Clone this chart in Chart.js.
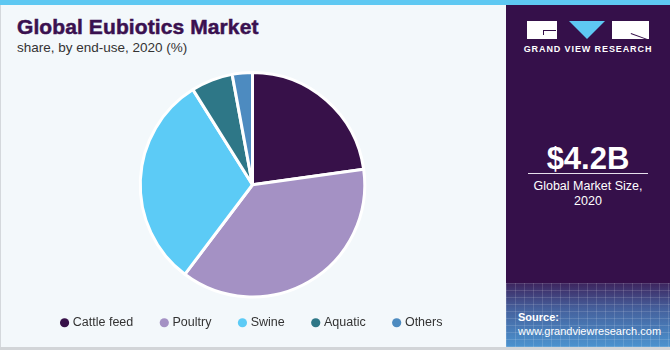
<!DOCTYPE html>
<html>
<head>
<meta charset="utf-8">
<script src="https://cdn.jsdelivr.net/npm/chart.js@4/dist/chart.umd.min.js"></script>
<style>
  html, body { margin: 0; padding: 0; }
  body { width: 670px; height: 350px; position: relative; overflow: hidden; background: #f3f8fb; font-family: "Liberation Sans", Arial, sans-serif; }
  .topbar { position: absolute; left: 0; top: 0; width: 670px; height: 5px; background: #5ec8f2; }
  .left { position: absolute; left: 0; top: 5px; width: 504px; height: 342px; background: #f3f8fb; border-left: 1px solid #d4d8dc; }
  .bottomline { position: absolute; left: 0; top: 347px; width: 670px; height: 3px; background: #d2d5d8; }
  h1 { position: absolute; left: 17px; top: 15px; margin: 0; font-size: 21px; font-weight: bold; color: #3a1150; letter-spacing: 0.1px; -webkit-text-stroke: 0.5px #3a1150; }
  .sub { position: absolute; left: 17px; top: 40px; font-size: 13.5px; color: #333; }
  #wrap { position: absolute; left: 0; top: 60px; width: 505px; height: 290px; }
  .side { position: absolute; left: 506px; top: 5px; width: 164px; height: 342px; background: #35104a; color: #fff; overflow: hidden; }
  .grid { position: absolute; left: 0; top: 278px; width: 164px; height: 64px;
    background:
      repeating-linear-gradient(90deg, rgba(255,255,255,0.13) 0 1px, transparent 1px 9px),
      repeating-linear-gradient(0deg, rgba(255,255,255,0.13) 0 1px, transparent 1px 7px),
      linear-gradient(180deg, #3d245e 0%, #45609c 40%, #4b93cf 100%); }
  .lg { position: absolute; }
  .lg.box { background: #fff; top: 16px; height: 18px; }
  .lg.tri { top: 16px; left: 63px; width: 0; height: 0; border-left: 18px solid transparent; border-right: 18px solid transparent; border-top: 18px solid #5ec8f2; }
  .lg.cut { background: #35104a; height: 1px; }
  .brand { position: absolute; left: 0; width: 164px; top: 39px; text-align: center; font-size: 9px; font-weight: bold; letter-spacing: 0.9px; }
  .big { position: absolute; left: 0; width: 164px; top: 136px; text-align: center; font-size: 31px; font-weight: bold; }
  .rule { position: absolute; left: 22px; width: 120px; top: 168px; height: 1px; background: #e6e0ec; }
  .size { position: absolute; left: 0; width: 164px; top: 174px; text-align: center; font-size: 12.5px; line-height: 15px; }
  .src { position: absolute; left: 12px; top: 305px; font-size: 11px; line-height: 14px; }
</style>
</head>
<body>
<div class="topbar"></div>
<div class="left"></div>
<h1>Global Eubiotics Market</h1>
<div class="sub">share, by end-use, 2020 (%)</div>
<div id="wrap"><canvas id="pie"></canvas></div>
<div class="side">
  <div class="lg box" style="left:21px;width:30px"></div>
  <div class="lg cut" style="left:37px;top:25px;width:13px"></div>
  <div class="lg cut" style="left:37px;top:25px;width:1px;height:5px"></div>
  <div class="lg tri"></div>
  <div class="lg box" style="left:106px;width:37px"></div>
  <div class="lg cut" style="left:125px;top:28px;width:18px;transform:rotate(20deg);transform-origin:0 0"></div>
  <div class="brand">GRAND VIEW RESEARCH</div>
  <div class="big">$4.2B</div>
  <div class="rule"></div>
  <div class="size">Global Market Size,<br>2020</div>
  <div class="grid"></div>
  <div class="src"><b>Source:</b><br>www.grandviewresearch.com</div>
</div>
<div class="bottomline"></div>
<script>
const categories = ['Cattle feed', 'Poultry', 'Swine', 'Aquatic', 'Others'];
const shares = [22.8, 37.5, 30.8, 6.0, 2.9];
const sliceColors = ['#371149', '#a491c4', '#5ccbf6', '#2e7787', '#4d8bc0'];

const canvas = document.getElementById('pie');
canvas.width = 505;
canvas.height = 290;

// legend keeps wide gaps between items, so pull it up closer to the pie
const liftLegend = {
  id: 'liftLegend',
  afterLayout(chart) {
    chart.legend.top -= 11;
    chart.legend.bottom -= 11;
  }
};

new Chart(canvas.getContext('2d'), {
  type: 'pie',
  data: {
    labels: categories,
    datasets: [{
      data: shares,
      backgroundColor: sliceColors,
      borderColor: '#ffffff',
      borderWidth: 3
    }]
  },
  options: {
    responsive: false,
    animation: false,
    layout: { padding: { top: 11, bottom: 0 } },
    plugins: {
      tooltip: { enabled: false },
      legend: {
        position: 'bottom',
        labels: {
          usePointStyle: true,
          pointStyle: 'circle',
          boxWidth: 4,
          boxHeight: 6.5,
          padding: 29,
          color: '#333',
          font: { family: '"Liberation Sans", Arial, sans-serif', size: 12.5 },
          // no white ring around the legend dots
          generateLabels: (chart) =>
            Chart.overrides.pie.plugins.legend.labels.generateLabels(chart)
              .map(item => ({ ...item, lineWidth: 0 }))
        }
      }
    }
  },
  plugins: [liftLegend]
});
</script>
</body>
</html>
